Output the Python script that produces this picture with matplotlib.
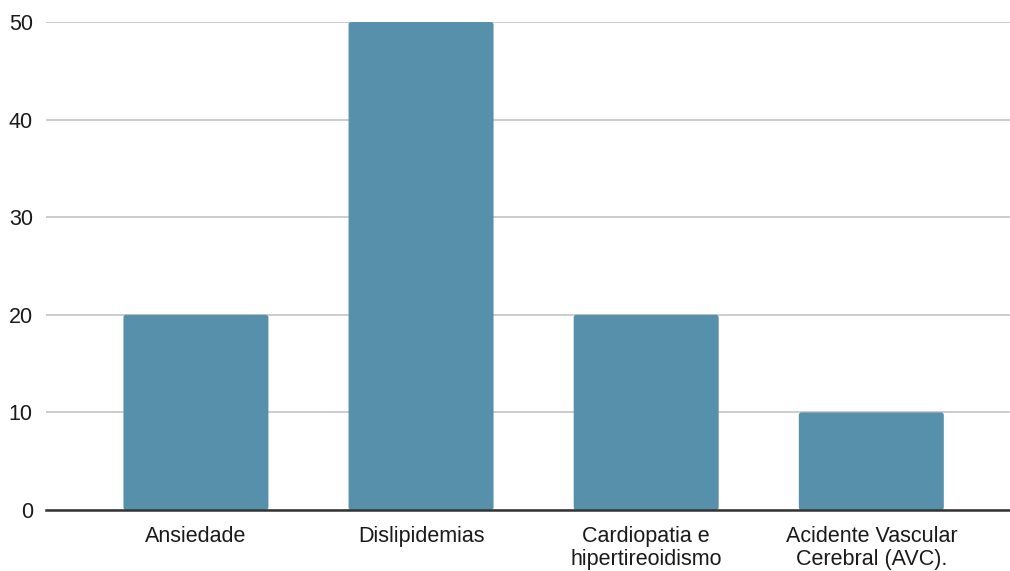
import matplotlib
matplotlib.use("Agg")
import matplotlib.pyplot as plt
from matplotlib.patches import FancyBboxPatch

categories = ["Ansiedade", "Dislipidemias", "Cardiopatia e\nhipertireoidismo",
              "Acidente Vascular\nCerebral (AVC)."]
values = [20, 50, 20, 10]
yticks = [0, 10, 20, 30, 40, 50]

plt.rcParams["font.family"] = ["Liberation Sans", "DejaVu Sans"]

W, H, DPI = 1010, 571, 100
fig = plt.figure(figsize=(W / DPI, H / DPI), dpi=DPI)
left, right, bottom, top = 46, 1010, 510, 22
ax = fig.add_axes([left / W, 1 - bottom / H, (right - left) / W, (bottom - top) / H])

bar_color = "#5790ab"
width = 0.644
xs = list(range(len(categories)))
bars = ax.bar(xs, values, width=width, color=bar_color, zorder=3)

# replace plain rectangles with slightly rounded ones
for b in bars:
    x0, y0 = b.get_x(), b.get_y()
    w, h = b.get_width(), b.get_height()
    b.set_visible(False)
    p = FancyBboxPatch((x0, y0), w, h, boxstyle="round,pad=0,rounding_size=0.012",
                       mutation_aspect=(50 / 488) / (4.282 / 964),
                       facecolor=bar_color, edgecolor="none", zorder=3)
    ax.add_patch(p)

ax.set_xlim(-0.666, 3.616)
ax.set_ylim(0, 50)
ax.set_yticks(yticks)
ax.set_xticks(xs)
ax.set_xticklabels(categories, fontsize=15.5, color="#1a1a1a", linespacing=1.1)
ax.tick_params(axis="y", labelsize=15.5, labelcolor="#1a1a1a", length=0, pad=9.5)
ax.tick_params(axis="x", length=0, pad=11.5)

ax.grid(axis="y", color="#cccccc", linewidth=1.4, zorder=0)
for s in ["top", "right", "left"]:
    ax.spines[s].set_visible(False)
ax.spines["bottom"].set_color("#333333")
ax.spines["bottom"].set_linewidth(1.8)
ax.spines["bottom"].set_zorder(4)

fig.savefig("out.png", dpi=DPI, facecolor="white")
